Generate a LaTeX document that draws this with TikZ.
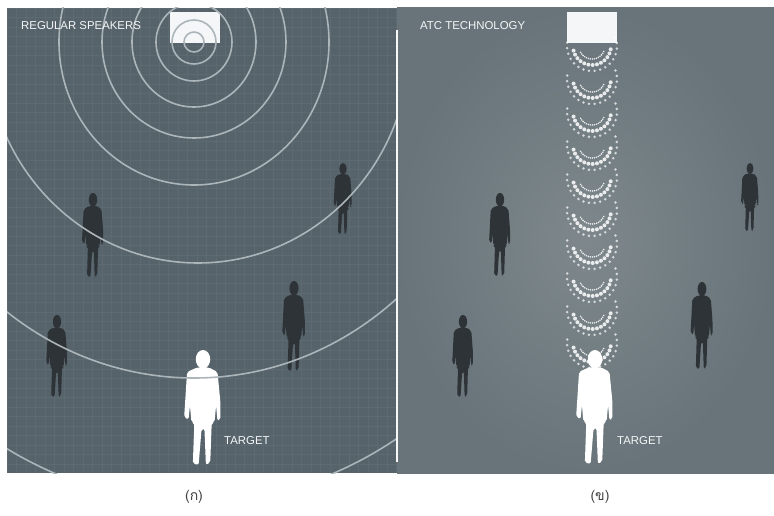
\documentclass[tikz,border=0pt]{standalone}
\usepackage{fontspec}
\setmainfont{Liberation Sans}
\newfontfamily\thaifont[Script=Thai]{Loma}
\definecolor{slate}{RGB}{86,99,106}
\definecolor{slategrid}{RGB}{93,106,113}
\definecolor{haze}{RGB}{104,116,122}
\definecolor{hazelight}{RGB}{126,136,140}
\definecolor{ripple}{RGB}{172,181,186}
\definecolor{shadow}{RGB}{46,51,55}
\definecolor{ink}{RGB}{244,246,247}
\tikzset{
   tag/.style = { font=\fontsize{11.4}{12}\selectfont, text=ink, anchor=west, inner sep=0pt },
   caption/.style = { font=\thaifont\fontsize{14}{16}\selectfont, text=black!75 },
   ring/.style = { line width=1.6pt, color=ripple },
   gridline/.style = { line width=0.3pt, color=slategrid },
   speaker/.style = { fill=ink },
   beam/.style = { fill=white, opacity=0.85 }
}
\def\Mid{592}
\tikzset{
  walker/.pic={
    \fill (0,8) circle [x radius=5, y radius=8];
    \fill[rounded corners=2pt] (-4,15) -- (4,15) -- (10,19) -- (12,45) -- (12,60) --
        (10,61) -- (9,48) -- (8,62) -- (6,63) -- (5,97) -- (2,99) -- (1,68) --
        (-1,68) -- (-3,99) -- (-7,98) -- (-6,63) -- (-8,62) -- (-9,48) --
        (-10,60) -- (-13,58) -- (-11,19) -- cycle;
  }
}

\begin{document}
\begin{tikzpicture}[x=1pt,y=-1pt]
  \useasboundingbox[fill=white] (0,0) rectangle (774,516);

  % left half: plain speaker
  \fill[slate] (7,8) rectangle (397,473);
  \foreach \gx in {7,16.5,...,397} {
    \draw[gridline] (\gx,8) -- (\gx,473);
  }
  \foreach \gy in {8,17.5,...,473} {
    \draw[gridline] (7,\gy) -- (397,\gy);
  }
  \fill[speaker] (170,12) rectangle (220,43);

  \pic[fill=shadow, scale=.85] at (93,193) {walker};
  \pic[fill=shadow, scale=.72] at (343,163) {walker};
  \pic[fill=shadow, scale=.91] at (294,281) {walker};
  \pic[fill=shadow, scale=.83] at (57,315) {walker};
  \pic[fill=white, xscale=1.45, yscale=1.16] at (203,350) {walker};

  \begin{scope}
    \clip (7,8) rectangle (397,473);
    \foreach \cx/\rx/\ry in {194/10/10, 194/22/22, 194/38/39, 194/62/65, 194/92/96,
                             194/135/143, 198/212/221, 194/314/336, 194/400/460} {
      \draw[ring] (\cx,42) circle [x radius=\rx, y radius=\ry];
    }
  \end{scope}

  % right half: directed beam
  \shade[inner color=hazelight, outer color=haze] (397,8) rectangle (774,473);
  \draw[line width=1.5pt, color=ink!90] (397,30) -- (397,462);
  \fill[speaker] (567,12) rectangle (617,43);

  \pic[fill=shadow, scale=.84] at (500,193) {walker};
  \pic[fill=shadow, scale=.69] at (750,163) {walker};
  \pic[fill=shadow, scale=.88] at (702,282) {walker};
  \pic[fill=shadow, scale=.83] at (463,315) {walker};
  \pic[fill=white, xscale=1.45, yscale=1.15] at (595,350) {walker};

  \foreach \y in {46,79,...,343} {
    \foreach \a in {-20,-7,...,200}
      \fill[beam, opacity=.7] ({\Mid+25*cos(\a)},{\y+25*sin(\a)}) circle (1.4);
    \foreach \a in {10,23,...,170}
      \fill[beam] ({\Mid+19*cos(\a)},{\y+19*sin(\a)}) circle (2);
    \foreach \a in {25,34,...,155}
      \fill[beam] ({\Mid+13*cos(\a)},{\y+13*sin(\a)}) circle (0.9);
  }

  \node[tag] (regular) at (21,26) {REGULAR SPEAKERS};
  \node[tag] (atc) at (420,26) {ATC TECHNOLOGY};
  \node[tag] (aimA) at (224,441) {TARGET};
  \node[tag] (aimB) at (617,441) {TARGET};
  \node[caption] (capA) at (194,497) {(ก)};
  \node[caption] (capB) at (600,497) {(ข)};
\end{tikzpicture}
\end{document}
